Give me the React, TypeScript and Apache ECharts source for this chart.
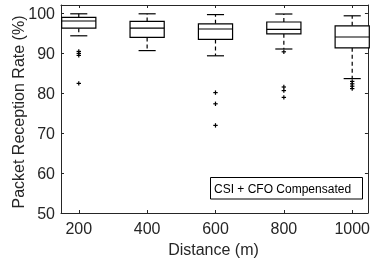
import { useEffect, useRef } from "react";
import * as echarts from "echarts";

const distances = [200, 400, 600, 800, 1000];
const whiskerLow = [94.3, 90.6, 89.3, 91.0, 83.6];
const quart1 = [96.2, 93.9, 93.4, 94.8, 91.3];
const medians = [98.0, 96.2, 96.0, 95.9, 94.0];
const quart3 = [98.9, 97.9, 97.3, 97.75, 96.8];
const whiskerHigh = [99.8, 99.8, 99.6, 99.75, 99.3];

const outlierDist = [200, 200, 200, 200, 600, 600, 600, 800, 800, 800, 800, 1000, 1000, 1000, 1000];
const outlierVal = [90.4, 89.9, 89.4, 82.4, 80.1, 77.3, 71.9, 90.3, 81.5, 80.6, 78.9, 82.9, 82.3, 81.7, 81.1];

const xTicks = [200, 400, 600, 800, 1000];
const yTicks = [50, 60, 70, 80, 90, 100];

const FONT = "'Liberation Sans', Arial, Helvetica, sans-serif";
const AX = "#262626";

export default function App() {
  const ref = useRef<HTMLDivElement>(null);
  useEffect(() => {
    if (!ref.current) return;
    const chart = echarts.init(ref.current, undefined, { renderer: "svg" });
    const boxData = distances.map((d, i) => [d, whiskerLow[i], quart1[i], medians[i], quart3[i], whiskerHigh[i]]);
    const outData = outlierDist.map((d, i) => [d, outlierVal[i]]);
    const halfBox = 50;
    const halfCap = 25;

    const baseX = {
      type: "value" as const,
      min: 148,
      max: 1046,
      splitLine: { show: false },
      axisLine: { show: true, onZero: false, lineStyle: { color: AX, width: 1 } },
      axisTick: { show: true, inside: true, length: 3, customValues: xTicks, lineStyle: { color: AX } },
    };
    const baseY = {
      type: "value" as const,
      min: 50,
      max: 102,
      splitLine: { show: false },
      axisLine: { show: true, onZero: false, lineStyle: { color: AX, width: 1 } },
      axisTick: { show: true, inside: true, length: 3, customValues: yTicks, lineStyle: { color: AX } },
    };

    chart.setOption({
      animation: false,
      grid: { left: 61, right: 1, top: 5, bottom: 49 },
      xAxis: [
        {
          ...baseX,
          position: "bottom",
          axisLabel: {
            customValues: xTicks,
            fontSize: 16,
            color: AX,
            fontFamily: FONT,
            margin: 7,
            formatter: (v: number) => String(v),
          },
        },
        { ...baseX, position: "top", axisLabel: { show: false } },
      ],
      yAxis: [
        {
          ...baseY,
          position: "left",
          axisLabel: {
            customValues: yTicks,
            fontSize: 16,
            color: AX,
            fontFamily: FONT,
            margin: 6,
            formatter: (v: number) => String(v),
          },
        },
        { ...baseY, position: "right", axisLabel: { show: false } },
      ],
      series: [
        {
          type: "custom",
          xAxisIndex: 0,
          yAxisIndex: 0,
          data: boxData,
          encode: { x: 0, y: [1, 2, 3, 4, 5] },
          renderItem: (_params: any, api: any) => {
            const x = api.value(0);
            const lo = api.value(1);
            const a = api.value(2);
            const m = api.value(3);
            const b = api.value(4);
            const hi = api.value(5);
            const [xl, y1] = api.coord([x - halfBox, a]);
            const [xr, y3] = api.coord([x + halfBox, b]);
            const [xc, ym] = api.coord([x, m]);
            const [, ylo] = api.coord([x, lo]);
            const [, yhi] = api.coord([x, hi]);
            const [cl] = api.coord([x - halfCap, lo]);
            const [cr] = api.coord([x + halfCap, lo]);
            const st = { stroke: "#000", lineWidth: 1.2, fill: "none" };
            const dash = { stroke: "#000", lineWidth: 1.2, lineDash: [4, 3] };
            return {
              type: "group",
              children: [
                { type: "line", shape: { x1: xc, y1: y3, x2: xc, y2: yhi }, style: dash },
                { type: "line", shape: { x1: xc, y1: y1, x2: xc, y2: ylo }, style: dash },
                { type: "line", shape: { x1: cl, y1: yhi, x2: cr, y2: yhi }, style: st },
                { type: "line", shape: { x1: cl, y1: ylo, x2: cr, y2: ylo }, style: st },
                { type: "rect", shape: { x: xl, y: y3, width: xr - xl, height: y1 - y3 }, style: { ...st, fill: "#fff" } },
                { type: "line", shape: { x1: xl, y1: ym, x2: xr, y2: ym }, style: st },
              ],
            };
          },
        },
        {
          type: "custom",
          xAxisIndex: 0,
          yAxisIndex: 0,
          data: outData,
          encode: { x: 0, y: 1 },
          renderItem: (_params: any, api: any) => {
            const [px, py] = api.coord([api.value(0), api.value(1)]);
            const s = 2.2;
            const st = { stroke: "#000", lineWidth: 1.2 };
            return {
              type: "group",
              children: [
                { type: "line", shape: { x1: px - s, y1: py, x2: px + s, y2: py }, style: st },
                { type: "line", shape: { x1: px, y1: py - s, x2: px, y2: py + s }, style: st },
              ],
            };
          },
        },
      ],
      graphic: [
        {
          type: "rect",
          shape: { x: 210.5, y: 177.5, width: 152, height: 21.5 },
          style: { fill: "#fff", stroke: "#000", lineWidth: 1 },
        },
        {
          type: "text",
          x: 214,
          y: 188.5,
          style: { text: "CSI + CFO Compensated", fontSize: 12, fontFamily: FONT, fill: "#000", align: "left", verticalAlign: "middle" },
        },
        {
          type: "text",
          x: 18.5,
          y: 112,
          rotation: Math.PI / 2,
          style: { text: "Packet Reception Rate (%)", fontSize: 16, fontFamily: FONT, fill: AX, align: "center", verticalAlign: "middle" },
        },
        {
          type: "text",
          x: 213.5,
          y: 249,
          style: { text: "Distance (m)", fontSize: 16, fontFamily: FONT, fill: AX, align: "center", verticalAlign: "middle" },
        },
      ],
    });
    return () => chart.dispose();
  }, []);
  return <div ref={ref} style={{ position: "fixed", left: 0, top: 0, width: 373, height: 262 }} />;
}
